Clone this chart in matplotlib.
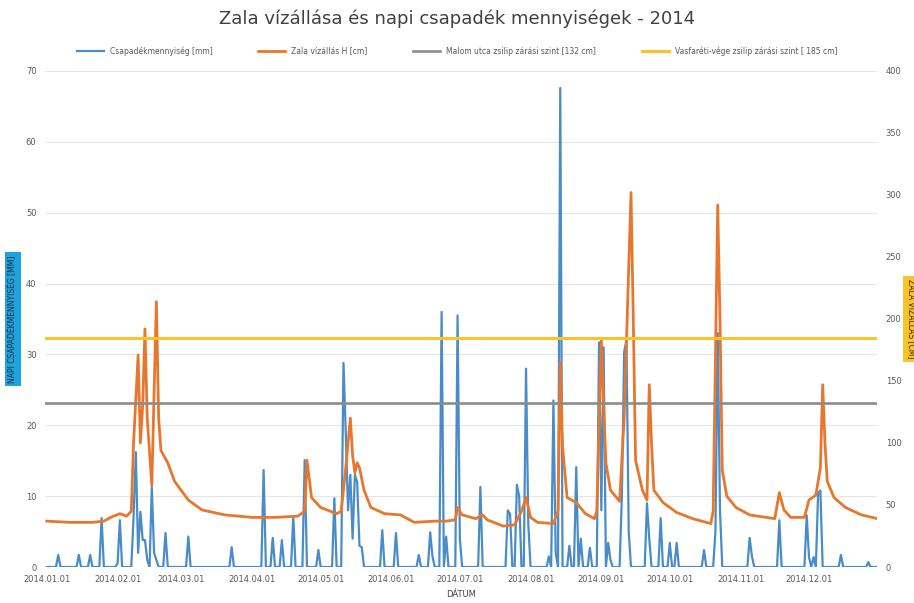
import matplotlib.pyplot as plt
import matplotlib.dates as mdates
import numpy as np
import pandas as pd

# napi csapadek: nap sorszama (0 = 2014.01.01) es mm ertek, a tobbi nap 0
rain_day = [5, 14, 19, 24, 31, 32, 38, 39, 40, 41, 42, 43, 44, 46, 47, 48, 52, 62,
            81, 95, 99, 103, 108, 113, 119, 126, 130, 131, 132, 133, 134, 135, 136, 137, 138,
            147, 153, 163, 168, 169, 173, 175, 180, 181, 190, 202, 203, 206, 207, 210, 211,
            220, 222, 223, 225, 229, 232, 234, 238, 242, 243, 244, 246, 247, 252, 253, 254, 255,
            263, 264, 269, 273, 276, 288, 293, 294, 295, 308, 309, 321, 333, 334, 336, 338, 339,
            348, 360]
rain_mm = [1.7, 1.7, 1.7, 6.9, 0.5, 6.6, 7.0, 16.2, 2.0, 7.8, 3.8, 3.8, 1.0, 11.3, 2.0, 1.0, 4.8, 4.3,
           2.8, 13.7, 4.1, 3.8, 7.1, 15.1, 2.4, 9.7, 28.8, 19.0, 8.0, 13.0, 4.0, 13.0, 12.0, 3.0, 2.8,
           5.2, 4.8, 1.7, 4.9, 1.5, 36.0, 4.3, 35.5, 4.0, 11.3, 8.0, 7.5, 11.6, 10.0, 28.0, 6.0,
           1.5, 23.5, 2.0, 67.6, 3.0, 14.1, 4.0, 2.7, 31.7, 8.0, 31.0, 3.4, 1.0, 10.0, 30.3, 32.0, 5.0,
           9.0, 4.0, 6.9, 3.4, 3.4, 2.4, 5.0, 33.0, 8.0, 4.1, 1.5, 6.6, 7.3, 1.4, 1.4, 10.4, 10.8,
           1.7, 0.7]

# Zala vizallas [cm] leolvasott pontokban
level_day = [0, 10, 20, 25, 28, 32, 35, 37, 38, 40, 41, 42, 43, 44, 46, 48, 49, 50, 53, 56, 62, 68,
             78, 90, 100, 110, 113, 114, 116, 120, 127, 129, 131, 133, 134, 135, 136, 137, 139, 142,
             148, 155, 161, 170, 175, 179, 180, 182, 188, 191, 193, 200, 205, 208, 210, 212, 215,
             222, 224, 225, 226, 228, 232, 236, 240, 241, 243, 244, 245, 247, 251, 253, 256, 257,
             258, 261, 263, 264, 265, 266, 270, 276, 283, 291, 292, 294, 295, 296, 298, 302, 308,
             319, 321, 323, 326, 332, 334, 337, 339, 340, 341, 342, 345, 350, 357, 364]
level_cm = [37, 36, 36, 37, 40, 43, 41, 45, 100, 171, 100, 130, 192, 120, 66, 214, 120, 94, 84, 69, 54, 46,
            42, 40, 40, 41, 45, 86, 56, 48, 43, 45, 80, 120, 90, 76, 84, 80, 62, 48,
            43, 42, 36, 37, 37, 38, 48, 42, 39, 42, 38, 33, 34, 45, 56, 40, 36,
            35, 45, 165, 97, 56, 52, 43, 39, 45, 183, 130, 84, 62, 53, 120, 302, 200,
            86, 62, 54, 147, 100, 62, 52, 44, 39, 35, 45, 292, 200, 78, 57, 48, 42,
            39, 60, 46, 40, 40, 54, 58, 80, 147, 100, 69, 56, 48, 42, 39]

malom_szint = 132
vasfar_szint = 185

start = pd.Timestamp('2014-01-01')
days = np.arange(365)
rain = np.zeros(365)
rain[rain_day] = rain_mm
dates = start + pd.to_timedelta(days, unit='D')
level_dates = start + pd.to_timedelta(level_day, unit='D')

fig = plt.figure(figsize=(9.14, 6.03), dpi=100)
ax1 = fig.add_axes([0.049, 0.0597, 0.911, 0.8226])
ax2 = ax1.twinx()

l1, = ax1.plot(dates, rain, color='#4a8cc8', lw=1.6, label='Csapadékmennyiség [mm]')
l2, = ax2.plot(level_dates, level_cm, color='#e8772e', lw=2.0, label='Zala vízállás H [cm]')
l3 = ax2.axhline(malom_szint, color='#8c8c8c', lw=1.9, label='Malom utca zsilip zárási szint [132 cm]')
l4 = ax2.axhline(vasfar_szint, color='#fcc22a', lw=2.2, label='Vasfaréti-vége zsilip zárási szint [ 185 cm]')

ax1.set_ylim(0, 70)
ax2.set_ylim(0, 400)
ax1.set_yticks(range(0, 71, 10))
ax2.set_yticks(range(0, 401, 50))
ax1.set_xlim(start - pd.Timedelta(days=0.9), start + pd.Timedelta(days=364))
ax1.xaxis.set_major_locator(mdates.MonthLocator())
ax1.xaxis.set_major_formatter(mdates.DateFormatter('%Y.%m.%d'))

ax1.grid(axis='y', color='#e6e6e6', lw=0.8)
ax1.set_axisbelow(True)
for ax in (ax1, ax2):
    for s in ax.spines.values():
        s.set_visible(False)
    ax.tick_params(length=0, labelsize=6, colors='#595959', pad=6)

ax1.set_xlabel('DÁTUM', fontsize=6, color='#404040', labelpad=4)
ax1.set_ylabel('NAPI CSAPADÉKMENNYISÉG [MM]', fontsize=5.5, color='#1f2a44',
               bbox=dict(boxstyle='square,pad=0.4', fc='#1fa3dc', ec='none'), labelpad=6)
ax2.set_ylabel('ZALA VÍZÁLLÁS [CM]', fontsize=5.5, color='#3a2a00', rotation=270,
               bbox=dict(boxstyle='square,pad=0.4', fc='#fcc22a', ec='none'), labelpad=10)

fig.suptitle('Zala vízállása és napi csapadék mennyiségek - 2014', fontsize=13, color='#404040', y=0.985)
fig.legend(handles=[l1, l2, l3, l4], loc='upper center', bbox_to_anchor=(0.5, 0.935), ncol=4,
           frameon=False, fontsize=5.5, handlelength=3.5, columnspacing=6, labelcolor='#595959')

plt.savefig('out.png', dpi=100)
